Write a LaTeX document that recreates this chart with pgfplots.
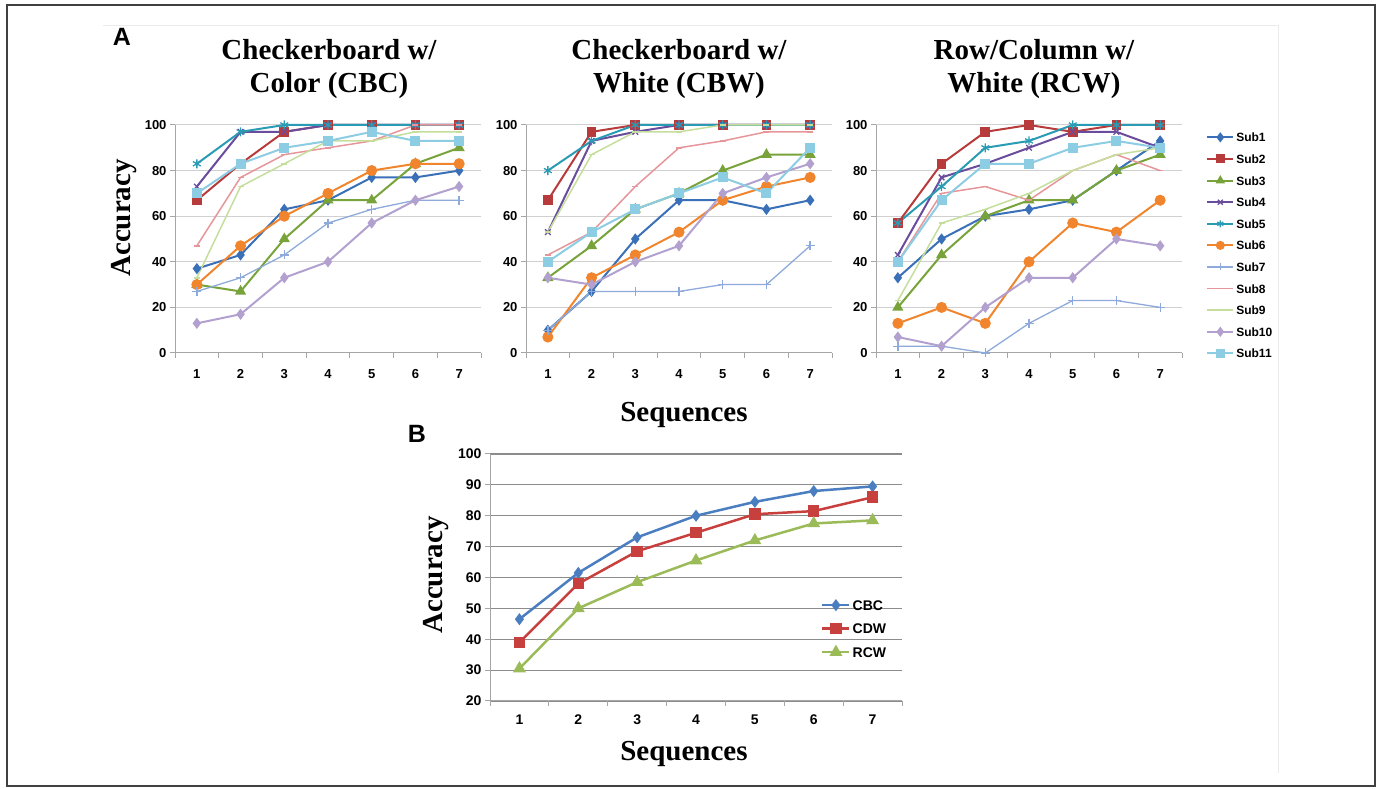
\documentclass[border=0pt]{standalone}
\usepackage{fontspec}
\setmainfont{Liberation Serif}
\setsansfont{Liberation Sans}
\usepackage{pgfplots}
\usepackage{pgfplotstable}
\pgfplotsset{compat=1.18}

\definecolor{c1}{HTML}{3A70B8}
\definecolor{c2}{HTML}{B83B3B}
\definecolor{c3}{HTML}{77A33A}
\definecolor{c4}{HTML}{6A4C9C}
\definecolor{c5}{HTML}{2A9BB5}
\definecolor{c6}{HTML}{F0852D}
\definecolor{c7}{HTML}{8EAADB}
\definecolor{c8}{HTML}{E6969A}
\definecolor{c9}{HTML}{C5DE9C}
\definecolor{c10}{HTML}{B2A1CF}
\definecolor{c11}{HTML}{8DCDE3}
\definecolor{bblue}{HTML}{4A7EC1}
\definecolor{bred}{HTML}{C8403E}
\definecolor{bgreen}{HTML}{9BBB59}
\definecolor{gridA}{HTML}{D0D0D0}
\definecolor{axisA}{HTML}{A6A6A6}
\definecolor{gridB}{HTML}{8C8C8C}

% accuracy per sequence, one column per subject
\pgfplotstableread{
x s1 s2 s3 s4 s5 s6 s7 s8 s9 s10 s11
1 37 67 30 73 83 30 27 47 33 13 70
2 43 83 27 97 97 47 33 77 73 17 83
3 63 97 50 97 100 60 43 87 83 33 90
4 67 100 67 100 100 70 57 90 93 40 93
5 77 100 67 100 100 80 63 93 93 57 97
6 77 100 83 100 100 83 67 100 97 67 93
7 80 100 90 100 100 83 67 100 97 73 93
}\cbc
\pgfplotstableread{
x s1 s2 s3 s4 s5 s6 s7 s8 s9 s10 s11
1 10 67 33 53 80 7 10 43 53 33 40
2 27 97 47 93 93 33 27 53 87 30 53
3 50 100 63 97 100 43 27 73 97 40 63
4 67 100 70 100 100 53 27 90 97 47 70
5 67 100 80 100 100 67 30 93 100 70 77
6 63 100 87 100 100 73 30 97 100 77 70
7 67 100 87 100 100 77 47 97 100 83 90
}\cbw
\pgfplotstableread{
x s1 s2 s3 s4 s5 s6 s7 s8 s9 s10 s11
1 33 57 20 43 57 13 3 40 23 7 40
2 50 83 43 77 73 20 3 70 57 3 67
3 60 97 60 83 90 13 0 73 63 20 83
4 63 100 67 90 93 40 13 67 70 33 83
5 67 97 67 97 100 57 23 80 80 33 90
6 80 100 80 97 100 53 23 87 87 50 93
7 93 100 87 90 100 67 20 80 90 47 90
}\rcw
\pgfplotstableread{
x cbc cdw rcw
1 46.5 39 30.5
2 61.5 58 50
3 73 68.5 58.5
4 80 74.5 65.5
5 84.5 80.5 72
6 88 81.5 77.5
7 89.5 86 78.5
}\avg

\pgfplotsset{
  s1/.style={color=c1, line width=2pt, mark=diamond*, mark size=4pt},
  s2/.style={color=c2, line width=2pt, mark=square*, mark size=3.8pt},
  s3/.style={color=c3, line width=2pt, mark=triangle*, mark size=4.5pt},
  s4/.style={color=c4, line width=2pt, mark=x, mark size=4pt, mark options={line width=1.3pt}},
  s5/.style={color=c5, line width=2pt, mark=asterisk, mark size=4.5pt, mark options={line width=1.3pt}},
  s6/.style={color=c6, line width=2pt, mark=*, mark size=4.5pt},
  s7/.style={color=c7, line width=1.3pt, mark=+, mark size=4.5pt},
  s8/.style={color=c8, line width=1.5pt, mark=-, mark size=3pt},
  s9/.style={color=c9, line width=1.5pt, mark=-, mark size=3pt},
  s10/.style={color=c10, line width=2pt, mark=diamond*, mark size=4pt},
  s11/.style={color=c11, line width=2pt, mark=square*, mark size=4pt},
  common/.style={
    scale only axis,
    xmin=0.5, xmax=7.5,
    axis x line*=bottom, axis y line*=left,
    xtick={1,...,7},
    xtick style={draw=none},
    extra x ticks={0.5,1.5,...,7.5},
    extra x tick labels={},
    extra x tick style={grid=none, xtick style={draw=axisA, line width=1pt}},
    ymajorgrids,
    tick align=outside,
    major tick length=5pt,
    ytick style={draw=axisA, line width=1pt},
    axis line style={draw=axisA, line width=1pt},
    /pgf/number format/assume math mode=true,
    clip=false,
  },
  panelA/.style={
    common,
    width=306pt, height=228pt,
    ymin=0, ymax=100, ytick={0,20,...,100},
    major grid style={draw=gridA, line width=1pt},
    tick label style={font=\sffamily\bfseries\fontsize{13}{13}\selectfont},
    xticklabel style={yshift=-8pt},
  },
}
\newcommand\serlab{\fontsize{29}{33}\selectfont\bfseries}

\begin{document}
\begin{tikzpicture}
\useasboundingbox (0pt,0pt) rectangle (1378pt,789pt);
\draw[black!75, line width=1.5pt] (7pt,3pt) rectangle (1375pt,784pt);
\draw[black!8, line width=1pt] (103pt,763pt) -- (1278pt,763pt) -- (1278pt,16pt);

\begin{axis}[panelA, at={(175pt,436pt)}, anchor=south west]
\pgfplotsinvokeforeach{1,...,11}{\addplot[s#1] table[x=x, y=s#1] {\cbc};}
\end{axis}

\begin{axis}[panelA, at={(526pt,436pt)}, anchor=south west]
\pgfplotsinvokeforeach{1,...,11}{\addplot[s#1] table[x=x, y=s#1] {\cbw};}
\end{axis}

\begin{axis}[panelA, at={(876pt,436pt)}, anchor=south west,
  legend cell align=left,
  legend style={at={(1.069,0.975)}, anchor=north west, draw=none, fill=none,
    font=\sffamily\bfseries\fontsize{12}{12}\selectfont,
    row sep=12.6pt, column sep=2pt,
    nodes={inner sep=0pt, text height=9pt, text depth=0pt}},
  legend image code/.code={\draw[mark repeat=2, mark phase=2, mark size=3.5pt] plot coordinates {(0pt,0pt) (13pt,0pt) (26pt,0pt)};}]
\pgfplotsinvokeforeach{1,...,11}{\addplot[s#1] table[x=x, y=s#1] {\rcw};}
\legend{Sub1,Sub2,Sub3,Sub4,Sub5,Sub6,Sub7,Sub8,Sub9,Sub10,Sub11}
\end{axis}

\begin{axis}[common, at={(490pt,88pt)}, anchor=south west,
  width=412pt, height=247pt,
  ymin=20, ymax=100, ytick={20,30,...,100},
  major grid style={draw=gridB, line width=1.2pt},
  tick label style={font=\sffamily\bfseries\fontsize{14}{14}\selectfont},
  xticklabel style={yshift=-5pt},
  legend cell align=left,
  legend style={at={(0.796,0.417)}, anchor=north west, draw=none, fill=none,
    font=\sffamily\bfseries\fontsize{14}{14}\selectfont,
    row sep=13.5pt, column sep=2pt,
    nodes={inner sep=0pt, text height=10pt, text depth=0pt}},
  legend image code/.code={\draw[mark repeat=2, mark phase=2] plot coordinates {(0pt,0pt) (13.5pt,0pt) (27pt,0pt)};}]
\addplot[color=bblue, line width=2.5pt, mark=diamond*, mark size=4pt] table[x=x, y=cbc] {\avg};
\addplot[color=bred, line width=2.5pt, mark=square*, mark size=4.5pt] table[x=x, y=cdw] {\avg};
\addplot[color=bgreen, line width=2.5pt, mark=triangle*, mark size=5pt] table[x=x, y=rcw] {\avg};
\legend{CBC,CDW,RCW}
\end{axis}

% panel letters, titles and axis labels
\node[font=\sffamily\bfseries\fontsize{25}{25}\selectfont] at (122pt,752pt) {A};
\node[font=\sffamily\bfseries\fontsize{25}{25}\selectfont] at (417pt,355pt) {B};
\node[anchor=base, font=\serlab] at (329pt,729pt) {Checkerboard w/};
\node[anchor=base, font=\serlab] at (329pt,696pt) {Color (CBC)};
\node[anchor=base, font=\serlab] at (679pt,729pt) {Checkerboard w/};
\node[anchor=base, font=\serlab] at (679pt,696pt) {White (CBW)};
\node[anchor=base, font=\serlab] at (1034pt,729pt) {Row/Column w/};
\node[anchor=base, font=\serlab] at (1034pt,696pt) {White (RCW)};
\node[anchor=base, rotate=90, font=\serlab] at (130pt,571pt) {Accuracy};
\node[anchor=base, font=\serlab] at (684pt,367pt) {Sequences};
\node[anchor=base, rotate=90, font=\serlab] at (442pt,214pt) {Accuracy};
\node[anchor=base, font=\serlab] at (684pt,28pt) {Sequences};
\end{tikzpicture}
\end{document}
